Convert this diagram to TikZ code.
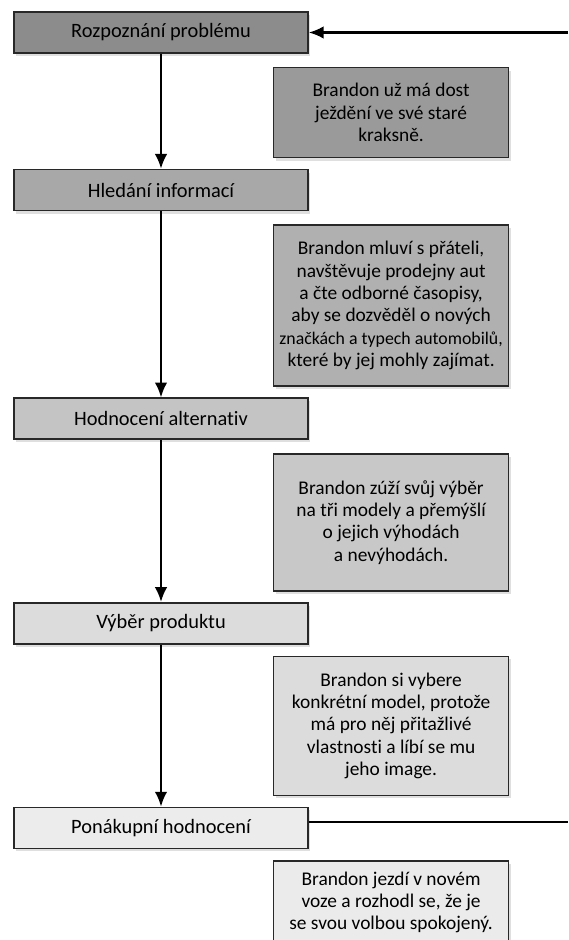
\documentclass[tikz,border=0pt]{standalone}
\usepackage{fontspec}
\setmainfont{Carlito}[Ligatures=NoCommon]
\usetikzlibrary{positioning,arrows.meta,shadows}
\definecolor{EdgeGray}{RGB}{40,40,40}
\definecolor{StageOne}{RGB}{140,140,140}
\definecolor{StageTwo}{RGB}{168,168,168}
\definecolor{StageThree}{RGB}{196,196,196}
\definecolor{StageFour}{RGB}{220,220,220}
\definecolor{StageFive}{RGB}{236,236,236}
\definecolor{NoteOne}{RGB}{154,154,154}
\definecolor{NoteTwo}{RGB}{176,176,176}
\definecolor{NoteThree}{RGB}{200,200,200}
\definecolor{NoteFour}{RGB}{220,220,220}
\definecolor{NoteFive}{RGB}{235,235,235}
\tikzset{
  flow/.style={-{Latex[length=2.6mm,width=2.2mm]},line width=1.1pt,draw=black},
  loopline/.style={line width=1.1pt,draw=black},
  stagebox/.style={draw=EdgeGray,line width=0.8pt,minimum width=147pt,
    minimum height=20.5pt,align=center,font=\fontsize{10.2}{11}\selectfont,
    drop shadow={shadow xshift=1pt,shadow yshift=-1.5pt,opacity=0.25}},
  notebox/.style={draw=EdgeGray,line width=0.8pt,minimum width=117.5pt,inner xsep=1pt,
    align=center,font=\fontsize{9.7}{11.2}\selectfont,
    drop shadow={shadow xshift=1.2pt,shadow yshift=-1.5pt,opacity=0.25}}
}
\begin{document}
\begin{tikzpicture}[node distance=6pt]
  \useasboundingbox (0,0) rectangle (284pt,-470pt);
  % decision stages
  \node[stagebox,fill=StageOne] (recog) at (80.5pt,-16.25pt) {Rozpoznání problému};
  \node[stagebox,fill=StageTwo,below=57.5pt of recog] (search) {Hledání informací};
  \node[stagebox,fill=StageThree,below=93pt of search] (evalalt) {Hodnocení alternativ};
  \node[stagebox,fill=StageFour,below=81pt of evalalt] (choice) {Výběr produktu};
  \node[stagebox,fill=StageFive,below=81pt of choice] (postbuy) {Ponákupní hodnocení};
  % notes
  \node[notebox,fill=NoteOne,minimum height=45pt,below right=6.5pt and -18pt of recog.south east] (noteA)
    {Brandon už má dost\\ ježdění ve své staré\\ kraksně.};
  \node[notebox,fill=NoteTwo,minimum height=80.5pt,below right=6.5pt and -18pt of search.south east] (noteB)
    {Brandon mluví s přáteli,\\ navštěvuje prodejny aut\\ a čte odborné časopisy,\\ aby se dozvěděl o nových\\
     {\fontsize{8.9}{11.2}\selectfont značkách a typech automobilů,}\\ které by jej mohly zajímat.};
  \node[notebox,fill=NoteThree,minimum height=68.5pt,below right=6.5pt and -18pt of evalalt.south east] (noteC)
    {Brandon zúží svůj výběr\\ na tři modely a přemýšlí\\ o jejich výhodách\\ a nevýhodách.};
  \node[notebox,fill=NoteFour,minimum height=69.5pt,below right=5.5pt and -18pt of choice.south east] (noteD)
    {Brandon si vybere\\ konkrétní model, protože\\ má pro něj přitažlivé\\ vlastnosti a líbí se mu\\ jeho image.};
  \node[notebox,fill=NoteFive,minimum height=41.5pt,below right=5.5pt and -18pt of postbuy.south east] (noteE)
    {Brandon jezdí v novém\\ voze a rozhodl se, že je\\ se svou volbou spokojený.};
  % feedback ends
  \coordinate (loopin) at (284pt,-16.25pt);
  \coordinate (loopout) at (284pt,-411pt);
  % arrows
  \draw[flow] (recog) -- (search);
  \draw[flow] (search) -- (evalalt);
  \draw[flow] (evalalt) -- (choice);
  \draw[flow] (choice) -- (postbuy);
  \draw[flow] (loopin) -- (recog.east);
  \draw[loopline] (postbuy.east |- loopout) -- (loopout);
\end{tikzpicture}
\end{document}
